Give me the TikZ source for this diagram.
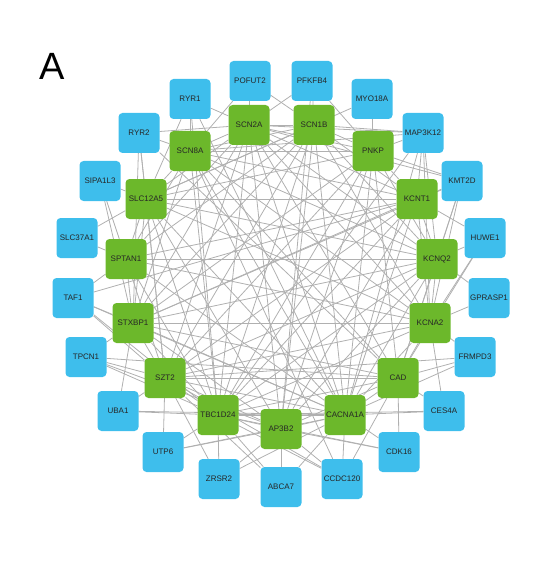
\documentclass[tikz,border=0pt]{standalone}
\usepackage{fontspec}
\setmainfont{Liberation Sans}
\usetikzlibrary{backgrounds}
\definecolor{geneblue}{HTML}{3EBEEC}
\definecolor{genegreen}{HTML}{6CB82B}
\tikzset{
  gene/.style={rounded corners=4pt, minimum width=41pt, minimum height=40pt, inner sep=1pt,
    font=\fontsize{8}{9}\selectfont, text=black!85},
  outergene/.style={gene, fill=geneblue},
  hubgene/.style={gene, fill=genegreen},
  ppilink/.style={draw=gray!62, line width=0.8pt}
}

\begin{document}
\begin{tikzpicture}[x=1pt, y=-1pt]
\useasboundingbox (0,0) rectangle (554,564);
\node[font=\fontsize{38}{40}\selectfont] (panel) at (52,66) {A};

% outer ring
\foreach \gname/\gx/\gy in {POFUT2/250/81, PFKFB4/312/81, MYO18A/372/99, MAP3K12/423/133,
    KMT2D/462/181, HUWE1/485/238, GPRASP1/489/298, FRMPD3/475/357, CES4A/444/411,
    CDK16/399/452, CCDC120/342/479, ABCA7/281/487, ZRSR2/219/479, UTP6/163/452,
    UBA1/118/411, TPCN1/86/357, TAF1/73/298, SLC37A1/77/238, SIPA1L3/100/181,
    RYR2/139/133, RYR1/190/99}
  \node[outergene] (\gname) at (\gx,\gy) {\gname};

% inner ring
\foreach \gname/\gx/\gy in {SCN2A/249/125, SCN1B/314/125, PNKP/373/151, KCNT1/417/199,
    KCNQ2/437/259, KCNA2/430/323, CAD/398/378, CACNA1A/345/415, AP3B2/281/429,
    TBC1D24/218/415, SZT2/165/378, STXBP1/133/323, SPTAN1/126/259, SLC12A5/146/199,
    SCN8A/190/151}
  \node[hubgene] (\gname) at (\gx,\gy) {\gname};

\begin{scope}[on background layer]
% links between inner genes
\foreach \ga/\gb in {SCN2A/SCN1B, SCN2A/PNKP, SCN2A/KCNT1, SCN2A/KCNQ2, SCN2A/KCNA2,
    SCN2A/CAD, SCN2A/CACNA1A, SCN2A/AP3B2, SCN2A/TBC1D24, SCN2A/SZT2, SCN2A/STXBP1,
    SCN2A/SPTAN1, SCN2A/SLC12A5, SCN2A/SCN8A,
    SCN1B/PNKP, SCN1B/KCNT1, SCN1B/KCNQ2, SCN1B/KCNA2, SCN1B/CACNA1A, SCN1B/AP3B2,
    SCN1B/TBC1D24, SCN1B/STXBP1, SCN1B/SPTAN1, SCN1B/SLC12A5, SCN1B/SCN8A, SCN1B/SZT2,
    PNKP/KCNT1, PNKP/KCNQ2, PNKP/CAD, PNKP/CACNA1A, PNKP/TBC1D24, PNKP/SZT2,
    PNKP/STXBP1, PNKP/SLC12A5, PNKP/SCN8A, PNKP/AP3B2,
    KCNT1/KCNQ2, KCNT1/KCNA2, KCNT1/CACNA1A, KCNT1/AP3B2, KCNT1/TBC1D24, KCNT1/SZT2,
    KCNT1/STXBP1, KCNT1/SPTAN1, KCNT1/SLC12A5, KCNT1/SCN8A,
    KCNQ2/KCNA2, KCNQ2/CAD, KCNQ2/CACNA1A, KCNQ2/AP3B2, KCNQ2/TBC1D24, KCNQ2/SZT2,
    KCNQ2/STXBP1, KCNQ2/SPTAN1, KCNQ2/SLC12A5, KCNQ2/SCN8A,
    KCNA2/CAD, KCNA2/CACNA1A, KCNA2/TBC1D24, KCNA2/SZT2, KCNA2/STXBP1, KCNA2/SLC12A5,
    KCNA2/SCN8A, KCNA2/SPTAN1,
    CAD/CACNA1A, CAD/AP3B2, CAD/TBC1D24, CAD/SZT2, CAD/STXBP1, CAD/SCN8A,
    CACNA1A/AP3B2, CACNA1A/TBC1D24, CACNA1A/SZT2, CACNA1A/STXBP1, CACNA1A/SPTAN1,
    CACNA1A/SLC12A5, CACNA1A/SCN8A,
    AP3B2/TBC1D24, AP3B2/SZT2, AP3B2/STXBP1, AP3B2/SLC12A5,
    TBC1D24/SZT2, TBC1D24/STXBP1, TBC1D24/SPTAN1, TBC1D24/SLC12A5, TBC1D24/SCN8A,
    SZT2/STXBP1, SZT2/SPTAN1, SZT2/SLC12A5,
    STXBP1/SPTAN1, STXBP1/SLC12A5, STXBP1/SCN8A,
    SPTAN1/SLC12A5, SPTAN1/SCN8A, SLC12A5/SCN8A}
  \draw[ppilink] (\ga) -- (\gb);
% links from outer genes
\foreach \ga/\gb in {POFUT2/SCN2A, POFUT2/SCN1B, POFUT2/SCN8A,
    PFKFB4/SCN2A, PFKFB4/SCN1B, PFKFB4/PNKP, PFKFB4/AP3B2,
    MYO18A/SLC12A5, MYO18A/PNKP,
    MAP3K12/SCN2A, MAP3K12/SCN1B, MAP3K12/PNKP, MAP3K12/KCNT1, MAP3K12/KCNQ2,
    MAP3K12/SCN8A, MAP3K12/CACNA1A, MAP3K12/KCNA2, MAP3K12/TBC1D24,
    KMT2D/KCNT1, KMT2D/KCNQ2, KMT2D/SCN2A, KMT2D/PNKP, KMT2D/KCNA2, KMT2D/CAD,
    KMT2D/STXBP1,
    HUWE1/KCNQ2, HUWE1/KCNT1, HUWE1/KCNA2, HUWE1/CAD,
    GPRASP1/KCNQ2, GPRASP1/KCNA2,
    FRMPD3/KCNA2, FRMPD3/CAD, FRMPD3/CACNA1A, FRMPD3/SZT2,
    CES4A/CAD, CES4A/CACNA1A, CES4A/TBC1D24, CES4A/KCNA2,
    CDK16/CAD, CDK16/CACNA1A, CDK16/AP3B2, CDK16/TBC1D24,
    CCDC120/CACNA1A, CCDC120/AP3B2, CCDC120/TBC1D24, CCDC120/SZT2, CCDC120/CAD,
    CCDC120/SCN8A,
    ABCA7/AP3B2, ABCA7/TBC1D24, ABCA7/CACNA1A, ABCA7/SZT2,
    ZRSR2/TBC1D24, ZRSR2/SZT2, ZRSR2/AP3B2, ZRSR2/CACNA1A,
    UTP6/SZT2, UTP6/TBC1D24, UTP6/AP3B2, UTP6/CACNA1A,
    UBA1/SZT2, UBA1/TBC1D24, UBA1/CACNA1A, UBA1/STXBP1,
    TPCN1/STXBP1, TPCN1/SZT2, TPCN1/TBC1D24, TPCN1/AP3B2, TPCN1/CAD,
    TAF1/STXBP1, TAF1/SZT2, TAF1/TBC1D24, TAF1/SPTAN1, TAF1/CACNA1A, TAF1/KCNT1,
    SLC37A1/SPTAN1, SLC37A1/SLC12A5,
    SIPA1L3/SLC12A5, SIPA1L3/SPTAN1, SIPA1L3/STXBP1,
    RYR2/SCN2A, RYR2/SCN8A, RYR2/SLC12A5, RYR2/STXBP1, RYR2/SZT2, RYR2/CAD,
    RYR1/SCN2A, RYR1/SCN8A, RYR1/SLC12A5, RYR1/TBC1D24, RYR1/CACNA1A}
  \draw[ppilink] (\ga) -- (\gb);
\end{scope}
\end{tikzpicture}
\end{document}
